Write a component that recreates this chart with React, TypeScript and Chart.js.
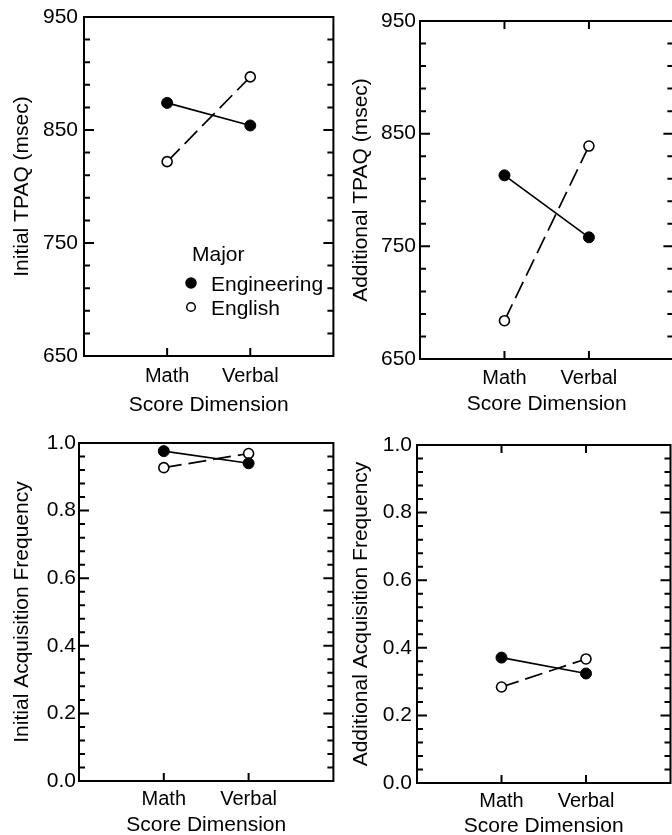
import React, { useEffect, useRef } from 'react';
import { Chart, registerables } from 'chart.js';

Chart.register(...registerables);

const FONT = "'Liberation Sans', Arial, Helvetica, sans-serif";

const CATEGORIES = ['Math', 'Verbal'];
const SERIES_NAMES = ['Engineering', 'English'];
const LEGEND_TITLE = 'Major';
const X_TITLE = 'Score Dimension';

const INITIAL_TPAQ_ENGINEERING = [874, 854];
const INITIAL_TPAQ_ENGLISH = [822, 897];
const ADDITIONAL_TPAQ_ENGINEERING = [813, 758];
const ADDITIONAL_TPAQ_ENGLISH = [684, 839];
const INITIAL_FREQ_ENGINEERING = [0.976, 0.94];
const INITIAL_FREQ_ENGLISH = [0.927, 0.969];
const ADDITIONAL_FREQ_ENGINEERING = [0.371, 0.324];
const ADDITIONAL_FREQ_ENGLISH = [0.284, 0.367];

const TPAQ_TICKS = [650, 670, 690, 710, 730, 750, 770, 790, 810, 830, 850, 870, 890, 910, 930, 950];
const TPAQ_LABELS = [650, 750, 850, 950];
const FREQ_TICKS = [
  0, 0.04, 0.08, 0.12, 0.16, 0.2, 0.24, 0.28, 0.32, 0.36, 0.4, 0.44, 0.48,
  0.52, 0.56, 0.6, 0.64, 0.68, 0.72, 0.76, 0.8, 0.84, 0.88, 0.92, 0.96, 1.0,
];
const FREQ_LABELS = [0, 0.2, 0.4, 0.6, 0.8, 1.0];

type PanelSpec = {
  key: string;
  left: number;
  top: number;
  yTitle: string;
  eng: number[];
  engl: number[];
  ticks: number[];
  labels: number[];
  fmt: (v: number) => string;
  yMin: number;
  yMax: number;
  W: number;
  T: number;
  R: number;
  H: number;
  xMax: number;
  yPad: number;
  yTitlePad: number;
  xPad: number;
  xTitlePad: number;
  topTicks: boolean;
  legend: boolean;
};

const tpaqFmt = (v: number) => String(v);
const freqFmt = (v: number) => v.toFixed(1);

const PANELS: PanelSpec[] = [
  {
    key: 'p1', left: 0, top: 0, yTitle: 'Initial TPAQ (msec)',
    eng: INITIAL_TPAQ_ENGINEERING, engl: INITIAL_TPAQ_ENGLISH,
    ticks: TPAQ_TICKS, labels: TPAQ_LABELS, fmt: tpaqFmt, yMin: 650, yMax: 950,
    W: 84, T: 17, R: 4, H: 64, xMax: 3, yPad: 6, yTitlePad: 10, xPad: 8, xTitlePad: 2.4,
    topTicks: false, legend: true,
  },
  {
    key: 'p2', left: 340, top: 0, yTitle: 'Additional TPAQ (msec)',
    eng: ADDITIONAL_TPAQ_ENGINEERING, engl: ADDITIONAL_TPAQ_ENGLISH,
    ticks: TPAQ_TICKS, labels: TPAQ_LABELS, fmt: tpaqFmt, yMin: 650, yMax: 950,
    W: 80, T: 21, R: 5, H: 61, xMax: 3, yPad: 4, yTitlePad: 9, xPad: 7, xTitlePad: 3.4,
    topTicks: true, legend: false,
  },
  {
    key: 'p3', left: 0, top: 420, yTitle: 'Initial Acquisition Frequency',
    eng: INITIAL_FREQ_ENGINEERING, engl: INITIAL_FREQ_ENGLISH,
    ticks: FREQ_TICKS, labels: FREQ_LABELS, fmt: freqFmt, yMin: 0, yMax: 1,
    W: 79, T: 23, R: 6, H: 59, xMax: 3, yPad: 3, yTitlePad: 10, xPad: 6, xTitlePad: 2.4,
    topTicks: false, legend: false,
  },
  {
    key: 'p4', left: 340, top: 420, yTitle: 'Additional Acquisition Frequency',
    eng: ADDITIONAL_FREQ_ENGINEERING, engl: ADDITIONAL_FREQ_ENGLISH,
    ticks: FREQ_TICKS, labels: FREQ_LABELS, fmt: freqFmt, yMin: 0, yMax: 1,
    W: 77, T: 25, R: 9.5, H: 57, xMax: 3, yPad: 5, yTitlePad: 9, xPad: 6.5, xTitlePad: 1,
    topTicks: true, legend: false,
  },
];

const isMajor = (v: number, labels: number[]) => labels.some((l) => Math.abs(l - v) < 1e-9);

const frameTicks = {
  id: 'frameTicks',
  beforeDatasetsDraw(chart: any, _args: any, opts: any) {
    const { ctx, chartArea: a, scales } = chart;
    const x = scales.x;
    const y = scales.y;
    ctx.save();
    ctx.strokeStyle = '#000';
    ctx.lineWidth = 2;
    ctx.strokeRect(a.left, a.top, a.right - a.left, a.bottom - a.top);
    ctx.lineWidth = 2;
    ctx.beginPath();
    y.ticks.forEach((t: any) => {
      const py = y.getPixelForValue(t.value);
      const len = isMajor(t.value, opts.labels) ? 10 : 6;
      ctx.moveTo(a.left, py);
      ctx.lineTo(a.left + len, py);
      ctx.moveTo(a.right, py);
      ctx.lineTo(a.right - len, py);
    });
    x.ticks.forEach((t: any) => {
      const px = x.getPixelForValue(t.value);
      ctx.moveTo(px, a.bottom);
      ctx.lineTo(px, a.bottom - 8);
      if (opts.topTicks) {
        ctx.moveTo(px, a.top);
        ctx.lineTo(px, a.top + 8);
      }
    });
    ctx.stroke();
    ctx.restore();
  },
};

const majorLegend = {
  id: 'majorLegend',
  afterDatasetsDraw(chart: any, _args: any, opts: any) {
    if (!opts || !opts.show) return;
    const { ctx } = chart;
    ctx.save();
    ctx.font = `21px ${FONT}`;
    ctx.textAlign = 'left';
    ctx.textBaseline = 'alphabetic';
    ctx.fillStyle = '#000';
    ctx.fillText(opts.title, opts.x, opts.y);
    chart.data.datasets.forEach((ds: any, i: number) => {
      const base = opts.y + opts.firstGap + i * opts.gap;
      ctx.fillStyle = '#000';
      ctx.fillText(ds.label, opts.textX, base);
      ctx.beginPath();
      ctx.arc(opts.markerX, base - 7.5, i === 0 ? 5 : 4.3, 0, Math.PI * 2);
      ctx.fillStyle = ds.pointBackgroundColor;
      ctx.fill();
      ctx.lineWidth = 1.5;
      ctx.strokeStyle = '#000';
      ctx.stroke();
    });
    ctx.restore();
  },
};

function ChartPanel({ p }: { p: PanelSpec }) {
  const ref = useRef<HTMLCanvasElement>(null);
  useEffect(() => {
    const canvas = ref.current;
    if (!canvas) return;
    const chart = new Chart(canvas, {
      type: 'line',
      data: {
        datasets: [
          {
            label: SERIES_NAMES[0],
            data: CATEGORIES.map((_, i) => ({ x: i + 1, y: p.eng[i] })),
            borderColor: '#000',
            backgroundColor: '#000',
            borderWidth: 1.7,
            pointRadius: 5.5,
            pointBackgroundColor: '#000',
            pointBorderColor: '#000',
            pointBorderWidth: 1,
            tension: 0,
          },
          {
            label: SERIES_NAMES[1],
            data: CATEGORIES.map((_, i) => ({ x: i + 1, y: p.engl[i] })),
            borderColor: '#000',
            backgroundColor: '#fff',
            borderWidth: 1.7,
            borderDash: [18, 7],
            pointRadius: 5,
            pointBackgroundColor: '#fff',
            pointBorderColor: '#000',
            pointBorderWidth: 1.6,
            tension: 0,
          },
        ],
      },
      options: {
        animation: false,
        responsive: false,
        devicePixelRatio: 1,
        layout: { padding: { left: 0, top: p.T, right: p.R, bottom: 0 } },
        plugins: {
          legend: { display: false },
          tooltip: { enabled: false },
          frameTicks: { labels: p.labels, topTicks: p.topTicks },
          majorLegend: {
            show: p.legend, title: LEGEND_TITLE,
            x: 192, y: 260.5, textX: 211, markerX: 191, firstGap: 30, gap: 24,
          },
        } as any,
        scales: {
          x: {
            type: 'linear',
            min: 0,
            max: p.xMax,
            grid: { display: false, drawTicks: false },
            border: { display: false },
            afterBuildTicks: (s: any) => {
              s.ticks = CATEGORIES.map((_, i) => ({ value: i + 1 }));
            },
            afterFit: (s: any) => {
              s.height = p.H;
              s.paddingLeft = 0;
              s.paddingRight = 0;
            },
            ticks: {
              autoSkip: false,
              maxRotation: 0,
              padding: p.xPad,
              color: '#000',
              font: { family: FONT, size: 20 },
              callback: (v: any) => CATEGORIES[Math.round(Number(v)) - 1] ?? '',
            },
            title: {
              display: true,
              text: X_TITLE,
              color: '#000',
              font: { family: FONT, size: 21 },
              padding: { top: 0, bottom: p.xTitlePad },
            },
          },
          y: {
            type: 'linear',
            min: p.yMin,
            max: p.yMax,
            grid: { display: false, drawTicks: false },
            border: { display: false },
            afterBuildTicks: (s: any) => {
              s.ticks = p.ticks.map((v) => ({ value: v }));
            },
            afterFit: (s: any) => {
              s.width = p.W;
              s.paddingTop = 0;
              s.paddingBottom = 0;
            },
            ticks: {
              autoSkip: false,
              padding: p.yPad,
              color: '#000',
              font: { family: FONT, size: 21 },
              callback: (v: any) => (isMajor(Number(v), p.labels) ? p.fmt(Number(v)) : ''),
            },
            title: {
              display: true,
              text: p.yTitle,
              color: '#000',
              font: { family: FONT, size: 21 },
              padding: { top: p.yTitlePad, bottom: 0 },
            },
          },
        } as any,
      },
      plugins: [frameTicks, majorLegend],
    } as any);
    return () => chart.destroy();
  }, [p]);
  return (
    <canvas
      ref={ref}
      width={340}
      height={420}
      style={{ position: 'absolute', left: p.left, top: p.top, width: 340, height: 420 }}
    />
  );
}

export default function App() {
  return (
    <div
      style={{
        position: 'absolute',
        left: 0,
        top: 0,
        width: 672,
        height: 835,
        overflow: 'hidden',
        background: '#fff',
      }}
    >
      {PANELS.map((p) => (
        <ChartPanel key={p.key} p={p} />
      ))}
    </div>
  );
}
